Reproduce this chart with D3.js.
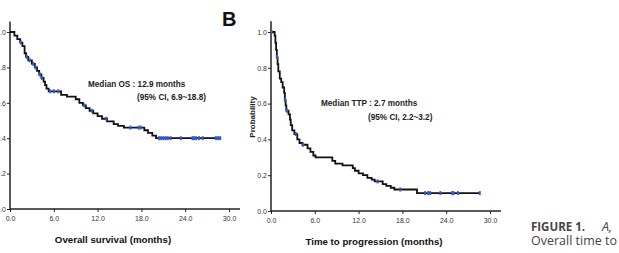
<!DOCTYPE html>
<html>
<head>
<meta charset="utf-8">
<script src="https://cdn.jsdelivr.net/npm/d3@7"></script>
<style>
  body { margin: 0; background: #fff; }
  svg { display: block; font-family: "Liberation Sans", Arial, sans-serif; }
</style>
</head>
<body>
<svg id="chart" width="619" height="253"></svg>
<script>
// step points [time (months), survival after the drop]
var osSteps = [[0.6,0.98],[1.0,0.96],[1.4,0.94],[1.7,0.92],[2.0,0.88],[2.2,0.86],[2.5,0.84],[3.0,0.82],
  [3.4,0.80],[3.7,0.78],[4.0,0.76],[4.3,0.74],[4.6,0.72],[4.8,0.70],[5.0,0.68],[5.3,0.665],
  [7.0,0.645],[7.8,0.635],[9.0,0.62],[9.5,0.60],[10.0,0.585],[10.4,0.57],[10.9,0.555],[11.4,0.54],
  [12.0,0.525],[12.6,0.51],[13.3,0.495],[14.2,0.48],[14.8,0.47],[15.6,0.46],[18.4,0.445],
  [18.9,0.43],[19.5,0.415],[20.0,0.40]];
var osEnd = 28.8;
var osCensored = [1.5,2.3,2.7,3.2,3.5,4.1,4.4,5.5,6.0,6.6,10.2,11.2,13.2,16.5,17.6,17.9,
  20.4,20.7,21.0,21.3,21.6,22.0,23.4,25.0,25.2,25.5,25.9,26.4,28.2,28.5,28.8];

var ttpSteps = [[0.5,0.98],[0.6,0.94],[0.7,0.90],[0.8,0.86],[0.9,0.82],[1.0,0.78],[1.2,0.74],
  [1.4,0.72],[1.6,0.69],[1.8,0.66],[1.9,0.62],[2.0,0.59],[2.1,0.56],[2.4,0.54],[2.6,0.51],
  [2.7,0.48],[2.9,0.45],[3.2,0.43],[3.6,0.40],[3.9,0.38],[4.3,0.37],[5.0,0.35],[5.4,0.33],
  [5.8,0.31],[6.1,0.30],[8.4,0.28],[8.8,0.265],[9.8,0.255],[11.2,0.24],[11.5,0.225],[12.0,0.21],
  [12.6,0.20],[13.2,0.185],[13.8,0.175],[14.2,0.165],[15.3,0.15],[15.8,0.14],[16.4,0.13],
  [16.9,0.12],[20.0,0.10]];
var ttpEnd = 28.6;
var ttpCensored = [0.1,0.8,1.9,2.2,3.4,4.4,14.6,17.7,21.1,21.5,21.8,23.2,24.8,25.0,25.6,28.6];

var xTicks = [0, 6, 12, 18, 24, 30];
var yTicks = [0, 0.2, 0.4, 0.6, 0.8, 1.0];

var svg = d3.select("#chart");

function survAt(steps, t) {
  var s = 1;
  steps.forEach(function(d) { if (d[0] <= t) s = d[1]; });
  return s;
}

function drawPanel(opts) {
  var x = d3.scaleLinear().domain([0, 30]).range(opts.xRange);
  var y = d3.scaleLinear().domain([0, 1]).range(opts.yRange);
  var g = svg.append("g");

  // x axis
  var xa = g.append("g").attr("transform", "translate(0," + y(0) + ")")
    .call(d3.axisBottom(x).tickValues(xTicks).tickFormat(d3.format(".1f")).tickSize(3).tickSizeOuter(0));
  xa.select(".domain").remove();
  xa.selectAll("line").attr("stroke", "#222");
  xa.selectAll("text").attr("font-size", 7).attr("fill", "#333").attr("dy", "0.9em");
  g.append("line").attr("x1", x(0)).attr("x2", x(31.5)).attr("y1", y(0)).attr("y2", y(0))
    .attr("stroke", "#222").attr("stroke-width", 1.5);

  // y axis
  var ya = g.append("g").attr("transform", "translate(" + x(0) + ",0)")
    .call(d3.axisLeft(y).tickValues(yTicks).tickFormat(d3.format(".1f")).tickSize(3).tickSizeOuter(0));
  ya.select(".domain").remove();
  ya.selectAll("line").attr("stroke", "#222");
  ya.selectAll("text").attr("font-size", 7).attr("fill", "#333").attr("x", -4);
  g.append("line").attr("x1", x(0)).attr("x2", x(0)).attr("y1", y(0)).attr("y2", y(1.06))
    .attr("stroke", "#222").attr("stroke-width", 1.5);

  // curve
  var pts = [[0, 1]].concat(opts.steps).concat([[opts.end, opts.steps[opts.steps.length - 1][1]]]);
  var line = d3.line().x(function(d) { return x(d[0]); }).y(function(d) { return y(d[1]); })
    .curve(d3.curveStepAfter);
  g.append("path").attr("d", line(pts)).attr("fill", "none").attr("stroke", "#111").attr("stroke-width", 1.8);

  // censor marks
  g.selectAll(".cens").data(opts.censored).enter().append("line")
    .attr("x1", function(d) { return x(d); }).attr("x2", function(d) { return x(d); })
    .attr("y1", function(d) { return y(survAt(opts.steps, d)) - 2; })
    .attr("y2", function(d) { return y(survAt(opts.steps, d)) + 2; })
    .attr("stroke", "#2f5fd0").attr("stroke-width", 2);

  // annotation
  g.append("text").attr("x", opts.note[0]).attr("y", opts.note[1]).attr("font-size", 8.2)
    .attr("font-weight", "bold").attr("fill", "#222").text(opts.median);
  g.append("text").attr("x", opts.note[2]).attr("y", opts.note[3]).attr("font-size", 8.2)
    .attr("font-weight", "bold").attr("fill", "#222").text(opts.ci);

  // x title
  g.append("text").attr("x", opts.title[0]).attr("y", opts.title[1]).attr("text-anchor", "middle")
    .attr("font-size", 9.7).attr("font-weight", "bold").attr("fill", "#111").text(opts.xTitle);
  return g;
}

drawPanel({
  xRange: [10, 229], yRange: [209, 32], steps: osSteps, end: osEnd, censored: osCensored,
  median: "Median OS : 12.9 months", ci: "(95% CI, 6.9~18.8)",
  note: [88, 87, 137, 100], title: [113, 243], xTitle: "Overall survival (months)"
});

var gB = drawPanel({
  xRange: [271, 490], yRange: [211, 32], steps: ttpSteps, end: ttpEnd, censored: ttpCensored,
  median: "Median TTP : 2.7 months", ci: "(95% CI, 2.2~3.2)",
  note: [321, 106, 368, 120], title: [374, 245], xTitle: "Time to progression (months)"
});

gB.append("text").attr("x", 222).attr("y", 26).attr("font-size", 20).attr("font-weight", "bold")
  .attr("fill", "#111").text("B");
gB.append("text").attr("transform", "translate(255,117) rotate(-90)").attr("text-anchor", "middle")
  .attr("font-size", 8).attr("font-weight", "bold").attr("fill", "#222").text("Probability");

// caption
svg.append("text").attr("x", 531).attr("y", 231).attr("font-size", 11.5)
  .attr("font-family", "'Open Sans', sans-serif").attr("font-weight", "700").attr("fill", "#444")
  .text("FIGURE 1.");
svg.append("text").attr("x", 602).attr("y", 231).attr("font-size", 12.5)
  .attr("font-family", "'Open Sans', sans-serif").attr("font-style", "italic").attr("fill", "#444")
  .text("A,");
svg.append("text").attr("x", 531).attr("y", 245).attr("font-size", 12.5)
  .attr("font-family", "'Open Sans', sans-serif").attr("fill", "#444").text("Overall time to");
</script>
</body>
</html>
